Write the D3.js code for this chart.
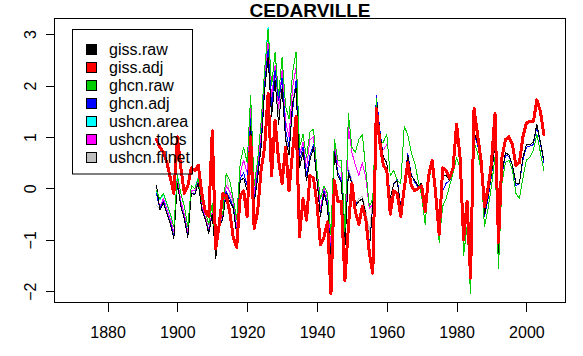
<!DOCTYPE html>
<html>
<head>
<meta charset="utf-8">
<script src="https://cdn.jsdelivr.net/npm/d3@7"></script>
<style>
  html, body { margin: 0; padding: 0; background: #fff; }
  svg { display: block; font-family: "Liberation Sans", Arial, sans-serif; }
</style>
</head>
<body>
<svg id="chart" width="583" height="356"></svg>
<script>
const title = "CEDARVILLE";
const firstYear = 1894, lastYear = 2005;
const xTicks = [1880, 1900, 1920, 1940, 1960, 1980, 2000];
const yTicks = [-2, -1, 0, 1, 2, 3];

// giss.raw 1894-2005
const gissRaw = [
  0.06, -0.42, -0.28, -0.50, -0.70, -0.97,
  0.10, -0.35, -0.60, -0.95, -0.10, -0.12, 0.10, -0.42, -0.60, -0.88,
  -0.50, -1.36, -0.75, -0.60, -0.10, -0.25, -0.38, -0.90, 0.15, 0.20,
  -0.05, 1.20, -0.30, 0.20, 0.80, 1.90, 2.55, 1.40, 2.10, 1.25,
  1.95, 0.95, 0.65, 1.65, 1.95, 0.40, 0.70, 0.15, 0.55, 0.80,
  0.15, -0.55, -0.10, -0.35, -1.40, 0.70, 0.25, 0.10, -1.15, 0.30,
  0.10, -0.35, -0.25, -0.20, -0.50, -1.20, -0.30, 1.75, 1.10, 0.60,
  0.50, -0.20, 0.10, 0.15, -0.38, 0.05, 0.65, 0.25, 0.15, 0.05,
  0.10, -0.30, 0.30, 0.55, 0.00, -0.80, 0.25, 0.25, 0.15, 0.40,
  1.20, 0.50, -1.05, -0.30, -1.80, 1.10, 0.90, 0.55, -0.50, -0.15,
  0.30, 0.85, -1.30, 0.30, 0.70, 0.65, 0.45, 0.10, 0.10, 0.60,
  0.85, 0.85, 0.90, 1.25, 0.90, 0.55
];
// giss.adj 1894-2005
const gissAdj = [
  0.95, 0.80, 0.70, 0.50, 0.20, -0.10,
  1.00, 0.40, -0.10, 0.05, 0.40, 0.35, 0.45, -0.10, -0.45, -0.55,
  1.12, -1.18, -0.70, -0.10, -0.15, -0.45, -0.95, -1.15, -0.15, -0.05,
  -0.55, 1.00, -0.78, -0.45, 0.36, 0.80, 1.85, 0.25, 1.33, 0.55,
  0.10, 0.80, -0.05, 0.70, 1.40, -0.94, -0.20, -0.62, 0.25, 0.20,
  -0.30, -1.10, -0.95, -0.65, -2.05, 0.15, -0.25, -0.25, -1.80, -0.75,
  0.10, -0.45, -0.70, -0.35, -0.60, -1.25, -1.65, 1.55, 0.90, 0.45,
  0.35, -0.50, -0.05, -0.10, -0.55, 0.00, 0.50, 0.05, -0.05, 0.00,
  0.05, -0.45, 0.25, 0.55, -0.10, -0.90, 0.40, 0.35, 0.20, 0.40,
  1.25, 0.60, -1.00, -0.25, -1.75, 1.55, 1.05, 0.55, -0.35, 0.00,
  0.50, 1.45, -1.05, 0.60, 0.95, 1.00, 0.85, 0.45, 0.50, 1.00,
  1.27, 1.30, 1.30, 1.72, 1.50, 1.05
];
// ghcn.raw 1894-2005
const ghcnRaw = [
  -0.05, -0.20, -0.10, -0.30, -0.50, -0.75,
  0.25, -0.10, -0.35, -0.75, 0.05, 0.00, 0.20, -0.25, -0.45, -0.70,
  -0.30, -1.15, -0.55, -0.50, 0.30, 0.15, -0.20, -0.60, 0.50, 0.80,
  0.50, 1.80, 0.05, 0.55, 1.30, 2.30, 3.10, 2.00, 2.65, 1.80,
  2.55, 1.60, 1.35, 2.25, 2.65, 0.80, 1.05, 0.60, 1.10, 1.15,
  0.35, -0.20, 0.05, -0.10, -0.90, 0.95, 0.55, 0.55, -0.85, 1.45,
  0.80, 0.70, 0.95, 1.05, 0.35, -0.35, -0.20, 1.75, 0.85, 0.90,
  1.05, 0.25, 0.35, 0.15, 0.10, 1.20, 1.05, 0.70, 0.50, 0.15,
  -0.15, -0.70, 0.15, 0.45, -0.10, -1.05, -0.35, -0.20, 0.05, 0.30,
  0.60, 0.40, -1.30, -0.75, -2.05, 0.90, 0.70, 0.35, -0.75, -0.40,
  0.05, 0.60, -1.55, 0.10, 0.50, 0.55, 0.35, -0.10, -0.20, 0.20,
  0.55, 0.60, 0.75, 1.05, 0.70, 0.35
];
// ghcn.adj 1894-2005
const ghcnAdj = [
  -0.10, -0.40, -0.25, -0.48, -0.68, -0.92,
  0.08, -0.33, -0.58, -0.92, -0.10, -0.10, 0.12, -0.40, -0.60, -0.85,
  -0.50, -1.33, -0.72, -0.58, -0.05, -0.20, -0.35, -0.85, 0.20, 0.30,
  0.05, 1.35, -0.25, 0.30, 0.90, 2.00, 2.70, 1.60, 2.30, 1.70,
  2.15, 1.15, 0.80, 1.50, 2.10, 0.55, 0.80, 0.25, 0.65, 0.85,
  0.15, -0.50, -0.05, -0.30, -1.35, 0.75, 0.30, 0.15, -1.15, 0.35,
  0.10, -0.30, -0.25, -0.20, -0.50, -1.15, -0.30, 1.80, 1.15, 0.60,
  0.50, -0.18, 0.08, 0.18, -0.35, 0.08, 0.68, 0.28, 0.12, 0.02,
  0.05, -0.35, 0.25, 0.50, -0.10, -0.85, -0.05, 0.10, 0.15, 0.35,
  1.15, 0.45, -1.10, -0.35, -1.85, 1.05, 0.85, 0.50, -0.55, -0.20,
  0.25, 0.85, -1.35, 0.25, 0.65, 0.62, 0.45, 0.05, 0.10, 0.55,
  0.80, 0.82, 0.85, 1.20, 0.88, 0.50
];
// ushcn.area 1894-1960
const ushcnArea = [
  -0.05, -0.22, -0.12, -0.32, -0.52, -0.75,
  0.28, -0.10, -0.35, -0.75, 0.05, 0.00, 0.22, -0.25, -0.45, -0.70,
  -0.30, -1.15, -0.55, -0.50, 0.30, 0.15, -0.20, -0.60, 0.50, 0.80,
  0.50, 1.80, 0.05, 0.55, 1.30, 2.30, 3.14, 2.00, 2.65, 1.80,
  2.55, 1.60, 1.35, 2.25, 2.65, 0.80, 1.05, 0.60, 1.10, 1.15,
  0.35, -0.20, 0.05, -0.10, -0.90, 0.95, 0.55, 0.55, -0.85, 1.45,
  0.80, 0.70, 0.95, 1.05, 0.35, -0.35, -0.20, 1.75, 0.85, 0.90,
  1.05
];
// ushcn.tobs 1894-1960
const ushcnTobs = [
  -0.10, -0.35, -0.20, -0.40, -0.60, -0.85,
  0.15, -0.25, -0.50, -0.85, -0.05, -0.05, 0.15, -0.35, -0.55, -0.80,
  -0.45, -1.25, -0.65, -0.55, 0.05, -0.05, -0.25, -0.75, 0.30, 0.55,
  0.30, 1.60, -0.10, 0.40, 1.05, 2.10, 2.85, 1.75, 2.40, 1.55,
  2.30, 1.30, 1.00, 1.95, 2.35, 0.65, 0.90, 0.40, 0.95, 1.00,
  0.25, -0.40, 0.00, -0.20, -1.20, 0.85, 0.45, 0.40, -1.00, 1.20,
  0.70, 0.45, 0.25, 0.50, 0.20, -0.40, -0.30, 1.70, 0.90, 0.75,
  0.85
];
// ushcn.filnet 1894-1960
const ushcnFilnet = [
  -0.33, -0.40, -0.25, -0.45, -0.65, -0.90,
  0.10, -0.30, -0.55, -0.90, -0.05, -0.10, 0.15, -0.40, -0.55, -0.85,
  -0.45, -1.30, -0.70, -0.55, 0.30, -0.15, -0.30, -0.85, 0.20, 0.30,
  0.05, 1.30, -0.25, 0.25, 0.85, 1.95, 2.60, 1.50, 2.15, 1.45,
  2.00, 1.00, 0.70, 1.70, 2.00, 0.45, 0.75, 0.20, 0.60, 0.85,
  0.20, -0.50, -0.05, -0.30, -1.35, 0.75, 0.30, 0.15, -1.10, 0.40,
  0.15, -0.30, -0.20, -0.15, -0.45, -0.85, -0.25, 1.70, 0.85, 0.60,
  0.55
];

const years = d3.range(firstYear, lastYear + 1);

const legendNames = ["giss.raw", "giss.adj", "ghcn.raw", "ghcn.adj", "ushcn.area", "ushcn.tobs", "ushcn.filnet"];
const legendColors = ["#000000", "#FF0000", "#00CD00", "#0000FF", "#00FFFF", "#FF00FF", "#BEBEBE"];

// draw order (bottom to top)
const series = [
  { values: ushcnArea, color: "#00FFFF", w: 1 },
  { values: ushcnFilnet, color: "#BEBEBE", w: 1 },
  { values: ushcnTobs, color: "#FF00FF", w: 1 },
  { values: ghcnAdj, color: "#0000FF", w: 1 },
  { values: gissRaw, color: "#000000", w: 1 },
  { values: ghcnRaw, color: "#00CD00", w: 1 },
  { values: gissAdj, color: "#FF0000", w: 3 }
];

const FONT = "'Liberation Sans', Arial, sans-serif";
const svg = d3.select("#chart");
svg.append("rect").attr("width", 583).attr("height", 356).attr("fill", "#fff");

const L = 54.5, R = 565.5, T = 18.5, B = 302.5;
const x = d3.scaleLinear().domain([1864.8, 2011.2]).range([L, R]);
const y = d3.scaleLinear().domain([-2.22, 3.304]).range([B, T]);

const line = d3.line().x((d, i) => x(years[i])).y(d => y(d));

const gLines = svg.append("g");
series.forEach(s => {
  gLines.append("path")
    .attr("d", line(s.values))
    .attr("fill", "none")
    .attr("stroke", s.color)
    .attr("stroke-width", s.w)
    .attr("stroke-linejoin", "round")
    .attr("stroke-linecap", "round")
    .attr("shape-rendering", "crispEdges");
});

// box
svg.append("rect").attr("x", L).attr("y", T).attr("width", R - L).attr("height", B - T)
  .attr("fill", "none").attr("stroke", "#000").attr("stroke-width", 1);

// x axis
const xAxis = svg.append("g").attr("transform", `translate(0,${B})`)
  .call(d3.axisBottom(x).tickValues(xTicks).tickFormat(d3.format("d")).tickSize(9).tickPadding(15));
xAxis.select(".domain").remove();
xAxis.selectAll("line").attr("stroke", "#000").attr("shape-rendering", "crispEdges");
xAxis.selectAll("text").attr("fill", "#000").style("font-size", "16px").style("font-family", FONT);

// y axis
const yAxis = svg.append("g").attr("transform", `translate(${L},0)`)
  .call(d3.axisLeft(y).tickValues(yTicks).tickFormat(d3.format("d")).tickSize(9));
yAxis.select(".domain").remove();
yAxis.selectAll("line").attr("stroke", "#000").attr("shape-rendering", "crispEdges");
yAxis.selectAll("text")
  .attr("fill", "#000")
  .attr("transform", "rotate(-90)")
  .attr("x", 0).attr("y", -19).attr("dy", 0)
  .attr("text-anchor", "middle")
  .style("font-size", "16px")
  .style("font-family", FONT);

// title
svg.append("text").attr("x", (L + R) / 2).attr("y", 17)
  .attr("text-anchor", "middle").attr("font-weight", "bold")
  .style("font-size", "19px").style("font-family", FONT).text(title);

// legend
const lg = svg.append("g");
lg.append("rect").attr("x", 72.5).attr("y", 29.5).attr("width", 120).attr("height", 144.5)
  .attr("fill", "none").attr("stroke", "#000");
legendNames.forEach((name, i) => {
  const cy = 48.5 + i * 18.05;
  lg.append("rect").attr("x", 86.5).attr("y", Math.round(cy - 5) + 0.5).attr("width", 10).attr("height", 10)
    .attr("fill", legendColors[i]).attr("stroke", "#000");
  lg.append("text").attr("x", 109).attr("y", cy + 6)
    .style("font-size", "16px").style("font-family", FONT).text(name);
});
</script>
</body>
</html>
